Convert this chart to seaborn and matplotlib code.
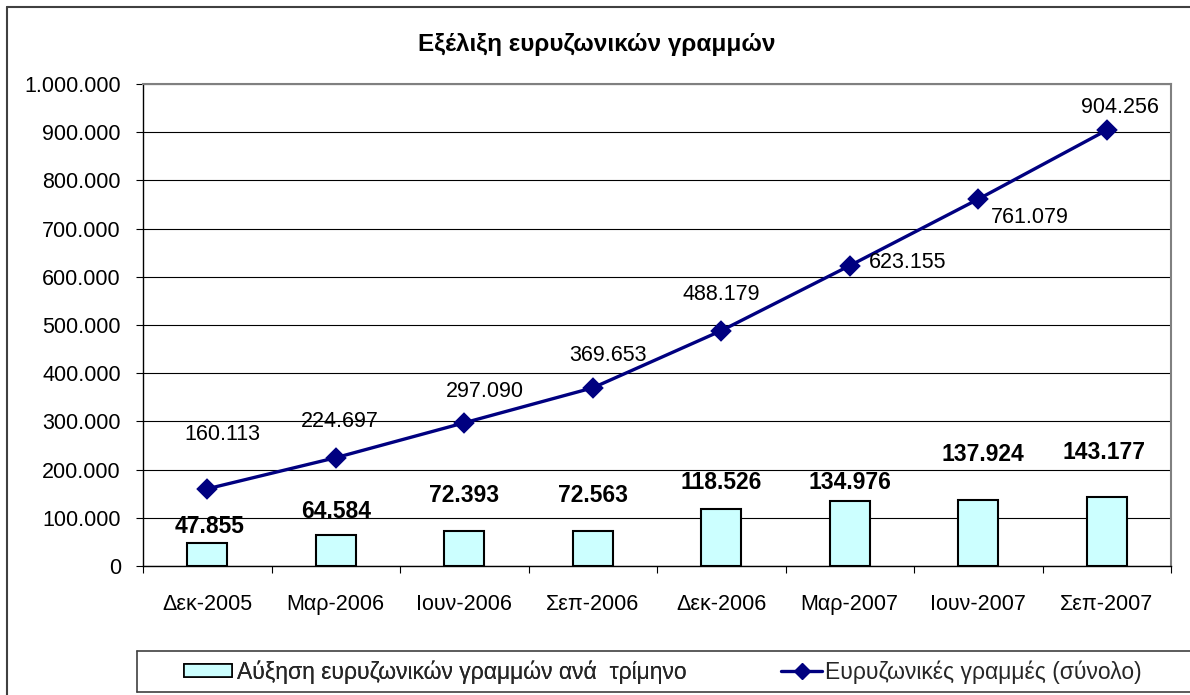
import matplotlib
matplotlib.use("Agg")
import matplotlib.pyplot as plt
import seaborn as sns
from matplotlib import font_manager
from matplotlib.lines import Line2D
from matplotlib.patches import Patch
from matplotlib.ticker import FixedLocator, FuncFormatter

# data
quarters = ["Δεκ-2005", "Μαρ-2006", "Ιουν-2006", "Σεπ-2006",
            "Δεκ-2006", "Μαρ-2007", "Ιουν-2007", "Σεπ-2007"]
growth = [47855, 64584, 72393, 72563, 118526, 134976, 137924, 143177]
totals = [160113, 224697, 297090, 369653, 488179, 623155, 761079, 904256]
yticks = list(range(0, 1000001, 100000))

title = "Εξέλιξη ευρυζωνικών γραμμών"
bar_name = "Αύξηση ευρυζωνικών γραμμών ανά  τρίμηνο"
line_name = "Ευρυζωνικές γραμμές (σύνολο)"

# manual label placement (pixel offsets, as in the Excel original)
total_offsets = [(15, 54), (4, 36), (21, 31), (15, 32), (0, 36), (58, 3), (52, -18), (13, 23)]
growth_offsets = [(2, 16), (0, 23), (0, 36), (0, 36), (0, 26), (0, 18), (5, 45), (-3, 44)]

BAR_COLOR = "#CCFFFF"
LINE_COLOR = "#000080"


def fmt(v):
    return f"{int(v):,}".replace(",", ".")


sns.set_theme(style="white")
plt.rcParams["font.family"] = ["Liberation Sans", "DejaVu Sans"]
installed = {f.name for f in font_manager.fontManager.ttflist}
legend_font = "Liberation Sans Narrow" if "Liberation Sans Narrow" in installed else "Liberation Sans"

W, H = 1190, 695
fig = plt.figure(figsize=(W / 100, H / 100), dpi=100)
fig.patch.set_facecolor("white")
ax = fig.add_axes([143 / W, 1 - 566 / H, (1171 - 143) / W, (566 - 84) / H])

sns.barplot(x=quarters, y=growth, color=BAR_COLOR, saturation=1, width=0.31,
            edgecolor="black", linewidth=1.5, ax=ax, zorder=2)
sns.pointplot(x=quarters, y=totals, color=LINE_COLOR, markers="D", errorbar=None,
              markersize=9.5, linewidth=2.4, ax=ax)
for coll in ax.collections + ax.lines:
    coll.set_zorder(3)

ax.set_xlim(-0.5, len(quarters) - 0.5)
ax.set_ylim(0, 1000000)
ax.set_xlabel("")
ax.set_ylabel("")

ax.yaxis.set_major_locator(FixedLocator(yticks))
ax.yaxis.set_major_formatter(FuncFormatter(lambda v, p: fmt(v)))
ax.grid(axis="y", color="black", linewidth=0.8)
ax.grid(axis="x", visible=False)
ax.set_axisbelow(True)

ax.tick_params(axis="y", which="major", direction="out", length=5, width=0.8,
               color="black", pad=11, labelsize=15.5, labelcolor="black", left=True)
ax.tick_params(axis="x", which="major", length=0, pad=20, labelsize=15.5, labelcolor="black")
ax.set_xticks([i + 0.5 for i in range(-1, len(quarters))], minor=True)
ax.tick_params(axis="x", which="minor", direction="out", length=5, width=0.8,
               color="black", bottom=True)

for side in ["left", "bottom"]:
    ax.spines[side].set_color("black")
    ax.spines[side].set_linewidth(1.0)
for side in ["top", "right"]:
    ax.spines[side].set_color("#808080")
    ax.spines[side].set_linewidth(1.5)

for i, v in enumerate(totals):
    dx, dy = total_offsets[i]
    ax.annotate(fmt(v), (i, v), xytext=(dx, dy), textcoords="offset pixels",
                ha="center", va="center", fontsize=15.5, color="black", zorder=4)
for i, v in enumerate(growth):
    dx, dy = growth_offsets[i]
    ax.annotate(fmt(v), (i, v), xytext=(dx, dy), textcoords="offset pixels",
                ha="center", va="center", fontsize=16.5, fontweight="bold",
                color="black", zorder=4)

fig.text(597 / W, 1 - 45 / H, title, ha="center", va="center",
         fontsize=17.5, fontweight="bold", color="black")

# outer chart border (cropped on the right and bottom in the original)
border = dict(color="#404040", linewidth=1.5, transform=fig.transFigure)
fig.add_artist(Line2D([7 / W, 7 / W], [0, 1 - 7 / H], **border))
fig.add_artist(Line2D([7 / W, 1], [1 - 7 / H, 1 - 7 / H], **border))

# legend frame
lframe = dict(color="#404040", linewidth=1.2, transform=fig.transFigure)
fig.add_artist(Line2D([137 / W, 137 / W], [1 - 692 / H, 1 - 651 / H], **lframe))
fig.add_artist(Line2D([137 / W, 1], [1 - 651 / H, 1 - 651 / H], **lframe))
fig.add_artist(Line2D([137 / W, 1], [1 - 692 / H, 1 - 692 / H], **lframe))

leg_font = {"family": legend_font, "size": 16.5}
bar_handle = Patch(facecolor=BAR_COLOR, edgecolor="black", linewidth=1.2)
line_handle = Line2D([], [], color=LINE_COLOR, linewidth=2.4, marker="D", markersize=8)
leg1 = fig.legend([bar_handle], [bar_name], loc="center left",
                  bbox_to_anchor=(184 / W, 1 - 672 / H), frameon=False, prop=leg_font,
                  borderpad=0, borderaxespad=0, handlelength=2.1, handleheight=0.5,
                  handletextpad=0.2)
fig.add_artist(leg1)
fig.legend([line_handle], [line_name], loc="center left",
           bbox_to_anchor=(781 / W, 1 - 672 / H), frameon=False, prop=leg_font,
           borderpad=0, borderaxespad=0, handlelength=1.8, handletextpad=0.1)

fig.savefig("out.png", dpi=100, facecolor="white")
